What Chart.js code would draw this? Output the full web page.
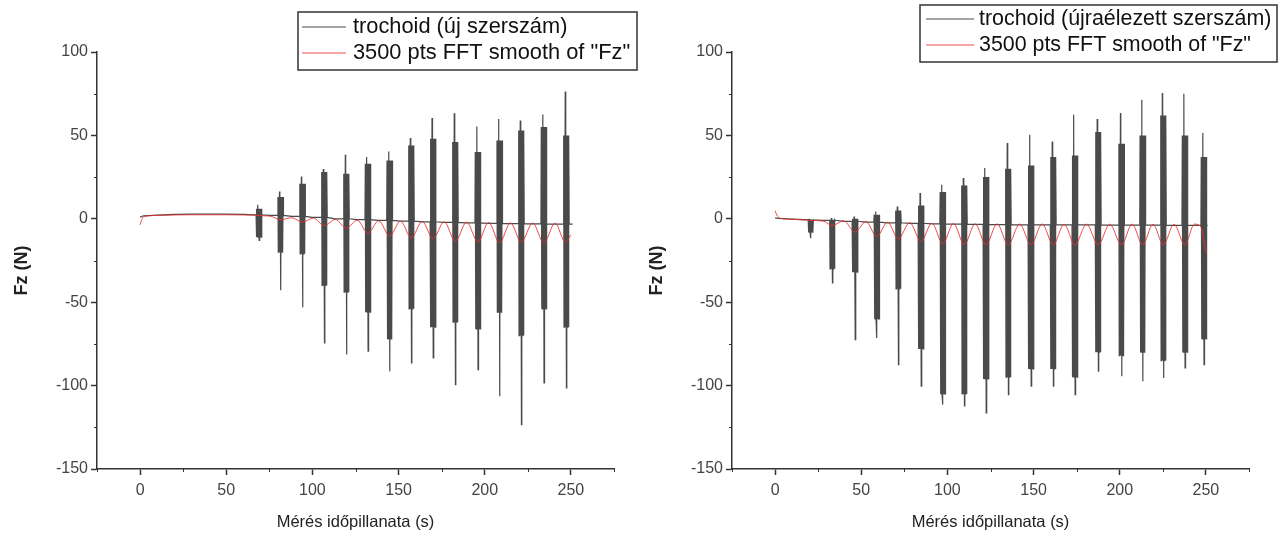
<!DOCTYPE html>
<html>
<head>
<meta charset="utf-8">
<script src="https://cdn.jsdelivr.net/npm/chart.js@4.4.1/dist/chart.umd.min.js"></script>
<style>
  html, body { margin: 0; padding: 0; background: #fff; }
  #wrap { position: relative; width: 1283px; height: 538px; overflow: hidden; }
  .panel { position: absolute; top: 0; height: 538px; }
  #panelL { left: 0; width: 640px; }
  #panelR { left: 640px; width: 643px; }
</style>
</head>
<body>
<div id="wrap">
  <div class="panel" id="panelL"><canvas id="chartL"></canvas></div>
  <div class="panel" id="panelR"><canvas id="chartR"></canvas></div>
</div>
<script>
// Left panel: new tool
const leftLabels = ["trochoid (új szerszám)", "3500 pts FFT smooth of \"Fz\""];
const leftBaseT = [0, 2, 10, 20, 30, 40, 50, 60, 66, 75, 88, 100, 113, 126, 138, 151, 164, 176, 189, 202, 215, 228, 240, 251];
const leftBaseV = [1.0, 1.8, 2.2, 2.6, 2.8, 2.8, 2.8, 2.6, 2.4, 2.0, 1.4, 0.8, 0.0, -0.5, -1.0, -1.4, -1.8, -2.2, -2.5, -2.7, -2.9, -3.1, -3.2, -3.2];
const leftBurstT = [69, 81.5, 94.2, 106.9, 119.7, 132.2, 144.8, 157.4, 170, 182.9, 196, 208.6, 221.2, 234.3, 247.3];
const leftBurstMax = [8.4, 16.4, 25.4, 29.8, 38.4, 37.0, 40.4, 48.4, 60.4, 63.3, 55.4, 59.8, 59.0, 62.6, 76.3];
const leftBurstMin = [-13.0, -42.9, -53.1, -74.4, -81.4, -79.4, -91.4, -86.4, -83.4, -99.4, -90.4, -106.4, -123.4, -98.4, -101.4];
const leftCoreMax = [6, 13, 21, 28, 27, 33, 35, 44, 48, 46, 40, 47, 53, 55, 50];
const leftCoreMin = [-11, -20, -21, -40, -44, -56, -72, -54, -65, -62, -66, -56, -70, -54, -65];
const leftSmoothT = [0, 1, 2.5, 10, 20, 30, 40, 50, 60, 66, 72, 76, 81.5, 88, 94.2, 100.5, 106.9, 113.3, 119.7, 126, 132.2, 138.5, 144.8, 151.1, 157.4, 163.7, 170, 176.5, 182.9, 189.5, 196, 202.3, 208.6, 214.9, 221.2, 227.8, 234.3, 240.8, 246.8, 250];
const leftSmoothV = [-3.6, -0.5, 1.4, 2.0, 2.3, 2.4, 2.4, 2.4, 2.3, 2.2, 1.8, 1.5, -0.6, 0.6, -2.0, 0.4, -4.0, -0.4, -5.6, -0.8, -8.6, -1.2, -10.4, -1.4, -11.4, -1.6, -11.8, -1.8, -13.4, -2.0, -13.8, -2.2, -14.4, -2.4, -14.0, -2.5, -14.4, -2.6, -14.0, -9.6];

// Right panel: resharpened tool
const rightLabels = ["trochoid (újraélezett szerszám)", "3500 pts FFT smooth of \"Fz\""];
const rightBaseT = [0, 2, 10, 20, 27, 40, 53, 65, 78, 91, 104, 116, 129, 142, 155, 168, 181, 194, 207, 219, 231, 243, 251];
const rightBaseV = [0.5, 0.2, -0.2, -0.6, -0.9, -1.5, -2.0, -2.4, -2.7, -3.0, -3.2, -3.4, -3.5, -3.6, -3.6, -3.7, -3.7, -3.8, -3.8, -3.8, -3.9, -3.9, -3.9];
const rightBurstT = [20.7, 33.2, 46.4, 59, 71.5, 84.7, 97.3, 109.8, 122.4, 135.3, 148.5, 161.4, 174, 187.5, 201, 213.3, 225.3, 237.8, 248.8];
const rightBurstMax = [0, 0.5, 1.4, 4.4, 7.4, 15.4, 20.4, 24.4, 30.4, 45.4, 50.4, 46.4, 62.4, 59.8, 63.4, 71.3, 75.4, 74.9, 51.4];
const rightBurstMin = [-11.6, -38.4, -72.4, -71.4, -87.4, -100.4, -111.4, -112.1, -116.4, -105.4, -100.4, -100.4, -105.4, -91.4, -94.4, -97.4, -95.4, -89.4, -87.4];
const rightCoreMax = [-0.5, -0.5, 0, 2.5, 5, 8, 16, 20, 25, 30, 32, 37, 38, 52, 45, 50, 62, 50, 37];
const rightCoreMin = [-8, -30, -32, -60, -42, -78, -105, -105, -96, -95, -90, -90, -95, -80, -82, -80, -85, -80, -72];
const rightSmoothT = [0, 1, 3, 8, 15, 22, 28, 33.2, 39.8, 46.4, 52.7, 59, 65.3, 71.5, 78.1, 84.7, 91, 97.3, 103.5, 109.8, 116.1, 122.4, 128.8, 135.3, 141.9, 148.5, 155, 161.4, 167.7, 174, 180.7, 187.5, 194.2, 201, 207.2, 213.3, 219.3, 225.3, 231.5, 237.8, 243.3, 246.8, 250.2];
const rightSmoothV = [4.8, 2.2, 0.4, -0.2, -0.6, -1.0, -1.4, -4.0, -1.2, -8.0, -1.6, -10.6, -2.0, -12.0, -2.3, -13.6, -2.6, -15.0, -2.8, -15.4, -3.0, -15.6, -3.0, -15.6, -3.1, -15.6, -3.1, -15.6, -3.2, -15.6, -3.2, -15.6, -3.2, -15.6, -3.2, -15.6, -3.2, -15.6, -3.2, -15.6, -3.2, -4.4, -20.6];

// axis ticks
const xTickMin = -25, xTickMax = 275, xStep = 25;
const yTickMin = -150, yTickMax = 100, yStep = 25;
const majorEvery = 50;
const xTitle = "Mérés időpillanata (s)";
const yTitle = "Fz (N)";

const FONT = '"Liberation Sans", Arial, Helvetica, sans-serif';

// dense vibration burst drawn as a tight zigzag of the read extremes
const burstShape = [
  ["base", -1.7], ["cmax", -1.5], ["cmin", -1.3], ["cmax", -1.1], ["cmin", -0.9],
  ["max", -0.6], ["cmin", -0.4], ["cmax", -0.2], ["min", 0.1], ["cmax", 0.3],
  ["cmin", 0.5], ["cmax", 0.7], ["cmin", 0.9], ["cmax", 1.1], ["cmin", 1.3], ["cmax", 1.5], ["base", 1.7]
];

function buildRaw(baseT, baseV, bT, bMax, bMin, cMax, cMin) {
  const pts = [];
  let j = 0;
  const addBurst = (k, base) => {
    const vals = { base: base, max: bMax[k], min: bMin[k], cmax: cMax[k], cmin: cMin[k] };
    burstShape.forEach(([key, dx]) => pts.push({ x: bT[k] + dx, y: vals[key] }));
  };
  for (let i = 0; i < baseT.length; i++) {
    while (j < bT.length && bT[j] < baseT[i]) {
      addBurst(j, pts.length ? pts[pts.length - 1].y : baseV[i]);
      j++;
    }
    pts.push({ x: baseT[i], y: baseV[i] });
  }
  return pts;
}

function zip(t, v) {
  return t.map((x, i) => ({ x: x, y: v[i] }));
}

// Origin-style boxed legend
const boxLegend = {
  id: "boxLegend",
  afterDraw(chart, args, o) {
    const ctx = chart.ctx;
    ctx.save();
    ctx.fillStyle = "#fff";
    ctx.fillRect(o.x, o.y, o.w, o.h);
    ctx.strokeStyle = "#333";
    ctx.lineWidth = 1.5;
    ctx.strokeRect(o.x, o.y, o.w, o.h);
    ctx.font = o.fontSize + "px " + FONT;
    ctx.textBaseline = "middle";
    chart.data.datasets.forEach((ds, i) => {
      const ly = o.y + o.rowTop + i * o.rowGap;
      ctx.strokeStyle = ds.borderColor;
      ctx.lineWidth = 1.2;
      ctx.beginPath();
      ctx.moveTo(o.x + o.lineStart, ly);
      ctx.lineTo(o.x + o.lineEnd, ly);
      ctx.stroke();
      ctx.fillStyle = "#111";
      ctx.fillText(ds.label, o.x + o.textStart, ly);
    });
    ctx.restore();
  }
};

// short outward minor ticks between the labelled ones
const minorTicks = {
  id: "minorTicks",
  afterDraw(chart) {
    const ctx = chart.ctx;
    const xs = chart.scales.x, ys = chart.scales.y;
    ctx.save();
    ctx.strokeStyle = "#333";
    ctx.lineWidth = 1;
    ctx.beginPath();
    xs.ticks.forEach(t => {
      if (t.value % majorEvery === 0) return;
      const px = Math.round(xs.getPixelForValue(t.value)) + 0.5;
      ctx.moveTo(px, xs.top);
      ctx.lineTo(px, xs.top + 3);
    });
    ys.ticks.forEach(t => {
      if (t.value % majorEvery === 0) return;
      const py = Math.round(ys.getPixelForValue(t.value)) + 0.5;
      ctx.moveTo(ys.right, py);
      ctx.lineTo(ys.right - 3, py);
    });
    ctx.stroke();
    ctx.restore();
  }
};

const isMajor = c => c.tick && c.tick.value % majorEvery === 0;

function makeChart(id, labels, raw, smooth, lay) {
  const ctx = document.getElementById(id).getContext("2d");
  return new Chart(ctx, {
    type: "line",
    data: {
      datasets: [
        {
          label: labels[0],
          data: raw,
          borderColor: "#4a4a4a",
          borderWidth: 1.2,
          pointRadius: 0,
          tension: 0,
          order: 2
        },
        {
          label: labels[1],
          data: smooth,
          borderColor: "rgba(236, 45, 45, 0.85)",
          borderWidth: 1,
          pointRadius: 0,
          cubicInterpolationMode: "monotone",
          order: 1
        }
      ]
    },
    options: {
      responsive: true,
      maintainAspectRatio: false,
      animation: false,
      events: [],
      layout: { padding: { left: 0, top: lay.top, right: lay.right, bottom: 0 } },
      plugins: {
        legend: { display: false },
        tooltip: { enabled: false },
        boxLegend: lay.legend
      },
      scales: {
        x: {
          type: "linear",
          min: xTickMin,
          max: xTickMax,
          afterFit: s => { s.height = lay.xHeight; },
          ticks: {
            stepSize: xStep,
            autoSkip: false,
            maxRotation: 0,
            padding: 6,
            color: "#444",
            font: { family: FONT, size: 16 },
            callback: v => (v % majorEvery === 0 ? v : "")
          },
          grid: {
            drawOnChartArea: false,
            drawTicks: true,
            tickLength: 6,
            tickColor: c => (isMajor(c) ? "#333" : "rgba(0,0,0,0)"),
            tickWidth: 1.5
          },
          border: { display: true, color: "#333", width: 1.5 },
          title: {
            display: true,
            text: xTitle,
            color: "#222",
            font: { family: FONT, size: 16.5 },
            padding: { top: 0, bottom: 6 }
          }
        },
        y: {
          min: yTickMin,
          max: yTickMax,
          afterFit: s => { s.width = lay.yWidth; },
          ticks: {
            stepSize: yStep,
            autoSkip: false,
            padding: 3,
            color: "#444",
            font: { family: FONT, size: 16 },
            callback: v => (v % majorEvery === 0 ? v : "")
          },
          grid: {
            drawOnChartArea: false,
            drawTicks: true,
            tickLength: 6,
            tickColor: c => (isMajor(c) ? "#333" : "rgba(0,0,0,0)"),
            tickWidth: 1.5
          },
          border: { display: true, color: "#333", width: 1.5 },
          title: {
            display: true,
            text: yTitle + "    ",
            color: "#222",
            font: { family: FONT, size: 18, weight: "bold" },
            padding: { top: lay.yTitlePad, bottom: 0 }
          }
        }
      }
    },
    plugins: [boxLegend, minorTicks]
  });
}

makeChart("chartL", leftLabels,
  buildRaw(leftBaseT, leftBaseV, leftBurstT, leftBurstMax, leftBurstMin, leftCoreMax, leftCoreMin),
  zip(leftSmoothT, leftSmoothV),
  {
    top: 52, right: 26, xHeight: 69, yWidth: 97, yTitlePad: 11,
    legend: { x: 298, y: 12, w: 339, h: 58, rowTop: 15, rowGap: 26, lineStart: 4, lineEnd: 48, textStart: 55, fontSize: 21.8 }
  });

makeChart("chartR", rightLabels,
  buildRaw(rightBaseT, rightBaseV, rightBurstT, rightBurstMax, rightBurstMin, rightCoreMax, rightCoreMin),
  zip(rightSmoothT, rightSmoothV),
  {
    top: 52, right: 34, xHeight: 69, yWidth: 92, yTitlePad: 6,
    legend: { x: 280, y: 5, w: 357, h: 57, rowTop: 14, rowGap: 26, lineStart: 6, lineEnd: 54, textStart: 59, fontSize: 21.4 }
  });
</script>
</body>
</html>
